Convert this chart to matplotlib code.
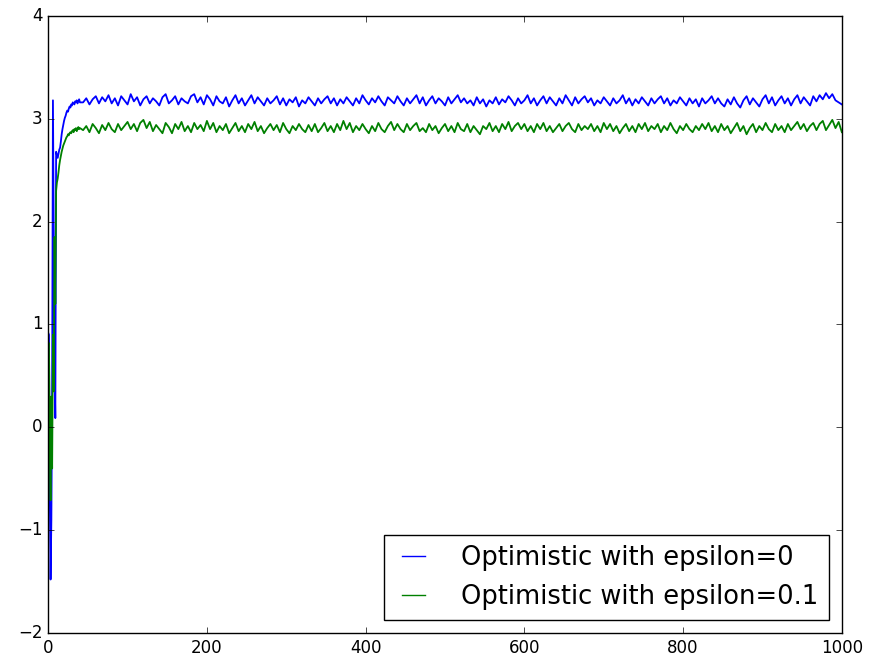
import numpy as np
import matplotlib
matplotlib.use('Agg')
import matplotlib.pyplot as plt

# 前段（每一步）
x_early = list(range(0, 41))
blue_early = [0.92, 0.90, -0.60, -1.48, -0.90, 0.40, 3.18, 1.85, 0.60, 0.09,
              2.68, 2.65, 2.62, 2.66, 2.70, 2.72, 2.78, 2.85, 2.90, 2.94,
              2.98, 3.01, 3.03, 3.06, 3.08, 3.07, 3.10, 3.12, 3.11, 3.14,
              3.13, 3.16, 3.15, 3.14, 3.17, 3.16, 3.18, 3.15, 3.17, 3.19,
              3.16]
green_early = [0.80, 0.82, -0.20, -0.71, 0.30, -0.40, 0.90, 0.35, 1.85, 1.20,
               2.30, 2.38, 2.42, 2.48, 2.55, 2.60, 2.64, 2.68, 2.71, 2.74,
               2.76, 2.78, 2.80, 2.82, 2.83, 2.85, 2.84, 2.86, 2.87, 2.86,
               2.88, 2.89, 2.87, 2.90, 2.89, 2.91, 2.88, 2.90, 2.92, 2.90,
               2.91]

# 後段（每 4 步取一點）
x_late = list(range(44, 1001, 4))
blue_late = [
    3.16, 3.20, 3.14, 3.19, 3.22, 3.15, 3.21, 3.17, 3.23, 3.15, 3.20, 3.13, 3.22, 3.18, 3.14, 3.24, 3.17, 3.21, 3.13, 3.19,
    3.22, 3.15, 3.20, 3.17, 3.13, 3.21, 3.24, 3.15, 3.18, 3.22, 3.14, 3.20, 3.17, 3.15, 3.22, 3.24, 3.16, 3.21, 3.14, 3.23,
    3.19, 3.13, 3.22, 3.17, 3.15, 3.21, 3.12, 3.18, 3.23, 3.15, 3.20, 3.13, 3.18, 3.23, 3.15, 3.21, 3.17, 3.13, 3.20, 3.15,
    3.18, 3.22, 3.14, 3.20, 3.13, 3.19, 3.16, 3.21, 3.12, 3.18, 3.15, 3.21, 3.17, 3.13, 3.20, 3.15, 3.19, 3.22, 3.15, 3.20,
    3.13, 3.19, 3.15, 3.21, 3.17, 3.13, 3.20, 3.15, 3.23, 3.18, 3.14, 3.20, 3.16, 3.22, 3.17, 3.13, 3.21, 3.18, 3.15, 3.22,
    3.17, 3.13, 3.20, 3.15, 3.19, 3.23, 3.15, 3.21, 3.13, 3.18, 3.22, 3.15, 3.20, 3.17, 3.13, 3.21, 3.15, 3.19, 3.23, 3.16,
    3.20, 3.15, 3.18, 3.13, 3.21, 3.15, 3.19, 3.12, 3.18, 3.15, 3.21, 3.14, 3.19, 3.16, 3.22, 3.18, 3.13, 3.20, 3.15, 3.18,
    3.23, 3.15, 3.20, 3.13, 3.18, 3.22, 3.15, 3.21, 3.17, 3.13, 3.20, 3.15, 3.23, 3.18, 3.13, 3.21, 3.15, 3.19, 3.22, 3.16,
    3.20, 3.13, 3.18, 3.15, 3.21, 3.17, 3.13, 3.20, 3.15, 3.18, 3.23, 3.15, 3.20, 3.13, 3.19, 3.15, 3.21, 3.17, 3.13, 3.20,
    3.15, 3.19, 3.22, 3.15, 3.20, 3.13, 3.18, 3.15, 3.21, 3.17, 3.13, 3.20, 3.15, 3.19, 3.12, 3.20, 3.15, 3.18, 3.22, 3.15,
    3.20, 3.15, 3.12, 3.19, 3.14, 3.21, 3.15, 3.11, 3.18, 3.22, 3.14, 3.20, 3.16, 3.12, 3.19, 3.23, 3.15, 3.21, 3.13, 3.18,
    3.22, 3.15, 3.20, 3.13, 3.19, 3.23, 3.15, 3.21, 3.17, 3.13, 3.22, 3.17, 3.23, 3.19, 3.25, 3.20, 3.24, 3.18, 3.16, 3.14,
]
green_late = [
    2.89, 2.93, 2.87, 2.95, 2.91, 2.86, 2.94, 2.89, 2.96, 2.90, 2.87, 2.95, 2.89, 2.93, 2.97, 2.90, 2.95, 2.88, 2.96, 2.99,
    2.91, 2.97, 2.88, 2.94, 2.90, 2.86, 2.96, 2.92, 2.86, 2.95, 2.90, 2.97, 2.88, 2.93, 2.87, 2.96, 2.90, 2.94, 2.88, 2.98,
    2.90, 2.96, 2.87, 2.93, 2.89, 2.95, 2.86, 2.91, 2.96, 2.88, 2.93, 2.87, 2.95, 2.90, 2.97, 2.88, 2.93, 2.86, 2.91, 2.95,
    2.89, 2.94, 2.87, 2.96, 2.90, 2.86, 2.93, 2.89, 2.95, 2.90, 2.87, 2.94, 2.88, 2.95, 2.87, 2.91, 2.96, 2.88, 2.93, 2.87,
    2.95, 2.89, 2.98, 2.90, 2.96, 2.87, 2.93, 2.89, 2.95, 2.90, 2.86, 2.93, 2.88, 2.96, 2.90, 2.87, 2.93, 2.97, 2.89, 2.95,
    2.90, 2.87, 2.95, 2.89, 2.93, 2.96, 2.88, 2.91, 2.87, 2.95, 2.89, 2.93, 2.86, 2.91, 2.95, 2.88, 2.93, 2.87, 2.96, 2.90,
    2.88, 2.95, 2.87, 2.93, 2.89, 2.85, 2.93, 2.90, 2.96, 2.88, 2.93, 2.87, 2.95, 2.90, 2.97, 2.88, 2.93, 2.96, 2.90, 2.95,
    2.88, 2.93, 2.87, 2.95, 2.90, 2.96, 2.88, 2.93, 2.87, 2.91, 2.95, 2.88, 2.93, 2.96, 2.90, 2.87, 2.95, 2.89, 2.93, 2.90,
    2.95, 2.88, 2.93, 2.87, 2.96, 2.90, 2.95, 2.88, 2.93, 2.86, 2.91, 2.95, 2.88, 2.93, 2.87, 2.95, 2.90, 2.96, 2.88, 2.93,
    2.90, 2.95, 2.87, 2.93, 2.89, 2.96, 2.90, 2.86, 2.93, 2.89, 2.95, 2.90, 2.87, 2.93, 2.89, 2.95, 2.90, 2.96, 2.88, 2.93,
    2.87, 2.95, 2.89, 2.93, 2.86, 2.91, 2.96, 2.88, 2.93, 2.85, 2.91, 2.95, 2.87, 2.93, 2.89, 2.96, 2.90, 2.87, 2.95, 2.89,
    2.93, 2.87, 2.95, 2.89, 2.93, 2.97, 2.90, 2.95, 2.88, 2.93, 2.96, 2.89, 2.95, 2.98, 2.89, 2.94, 2.99, 2.91, 2.97, 2.87,
]

labels = ['Optimistic with epsilon=0', 'Optimistic with epsilon=0.1']

x = x_early + x_late
blue = blue_early + blue_late
green = green_early + green_late

plt.style.use('classic')
plt.rcParams['font.family'] = ['DejaVu Sans']

fig = plt.figure(figsize=(8.76, 6.67), dpi=100)
ax = fig.add_axes([0.055, 0.051, 0.906, 0.925])
ax.plot(x, blue, color='b', lw=1.3, label=labels[0])
ax.plot(x, green, color='g', lw=1.3, label=labels[1])
ax.set_xlim(0, 1000)
ax.set_ylim(-2, 4)
ax.tick_params(labelsize=12)
leg = ax.legend(loc='lower right', fontsize=18.5, handlelength=1.5,
                handletextpad=1.1, borderaxespad=0.5)
for line in leg.get_lines():
    line.set_linewidth(1.0)

fig.savefig('out.png', dpi=100)
